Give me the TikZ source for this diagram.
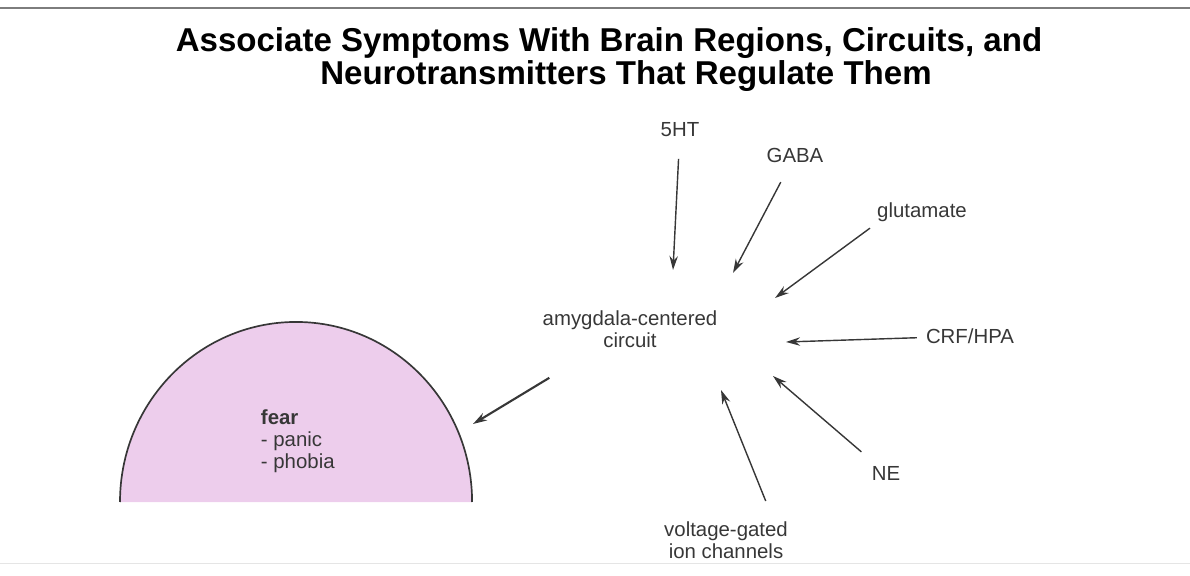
\documentclass[tikz,border=0pt]{standalone}
\usepackage{fontspec}
\setmainfont{Liberation Sans}
\usetikzlibrary{calc,arrows.meta}
\definecolor{fearpink}{RGB}{237,205,236}
\definecolor{ink}{RGB}{55,55,55}
\definecolor{rulegray}{RGB}{125,125,125}

\begin{document}
\begin{tikzpicture}[x=0.025cm, y=-0.025cm,
    >={Stealth[length=10pt, width=6pt]},
    head/.style={font=\fontsize{23.5}{24}\selectfont\bfseries, anchor=base, inner sep=0pt},
    txt/.style={text=ink, font=\fontsize{14.5}{15.5}\selectfont, align=center},
    feed/.style={->, line width=1pt, ink}]
  \useasboundingbox (0,0) rectangle (1190,576);
  \draw[rulegray, line width=2pt] (0,8) -- (1190,8);
  \draw[gray!20] (0,563) -- (1190,563);

  \node[head] (title) at (609,52) {Associate Symptoms With Brain Regions, Circuits, and};
  \node[head] (subtitle) at (626,85) {Neurotransmitters That Regulate Them};

  % fear region
  \fill[fearpink] (120,502) arc[start angle=180, end angle=0, x radius=4.4cm, y radius=4.5cm] -- cycle;
  \draw[ink, line width=1.2pt] (120,502) arc[start angle=180, end angle=0, x radius=4.4cm, y radius=4.5cm];
  \node[txt, align=left, anchor=west] (fear) at (256,441) {\textbf{fear}\\- panic\\- phobia};

  % circuit and inputs
  \node[txt] (circuit) at (630,329) {amygdala-centered\\circuit};
  \node[txt] (ht) at (680,130) {5HT};
  \node[txt] (gaba) at (795,155) {GABA};
  \node[txt] (glu) at (922,212) {glutamate};
  \node[txt] (crf) at (970,336) {CRF/HPA};
  \node[txt] (ne) at (886,473) {NE};
  \node[txt] (vgic) at (726,540) {voltage-gated\\ion channels};

  \coordinate (in5ht) at (673,270);
  \coordinate (ingaba) at (733,273);
  \coordinate (inglu) at (775,298);
  \coordinate (incrf) at (786,342);
  \coordinate (inne) at (773,376);
  \coordinate (invgic) at (721,390);
  \coordinate (tofear) at (473,424);

  \draw[feed, shorten <=12pt] (ht) -- (in5ht);
  \draw[feed, shorten <=12pt] (gaba) -- (ingaba);
  \draw[feed, shorten <=2pt] (glu.south west) -- (inglu);
  \draw[feed, shorten <=3pt] (crf) -- (incrf);
  \draw[feed, shorten <=10pt] (ne) -- (inne);
  \draw[feed, shorten <=12pt] ([xshift=1.15cm]vgic.north) -- (invgic);
  \draw[->, ink, line width=1.5pt, shorten <=35pt] (circuit) -- (tofear);
\end{tikzpicture}
\end{document}
